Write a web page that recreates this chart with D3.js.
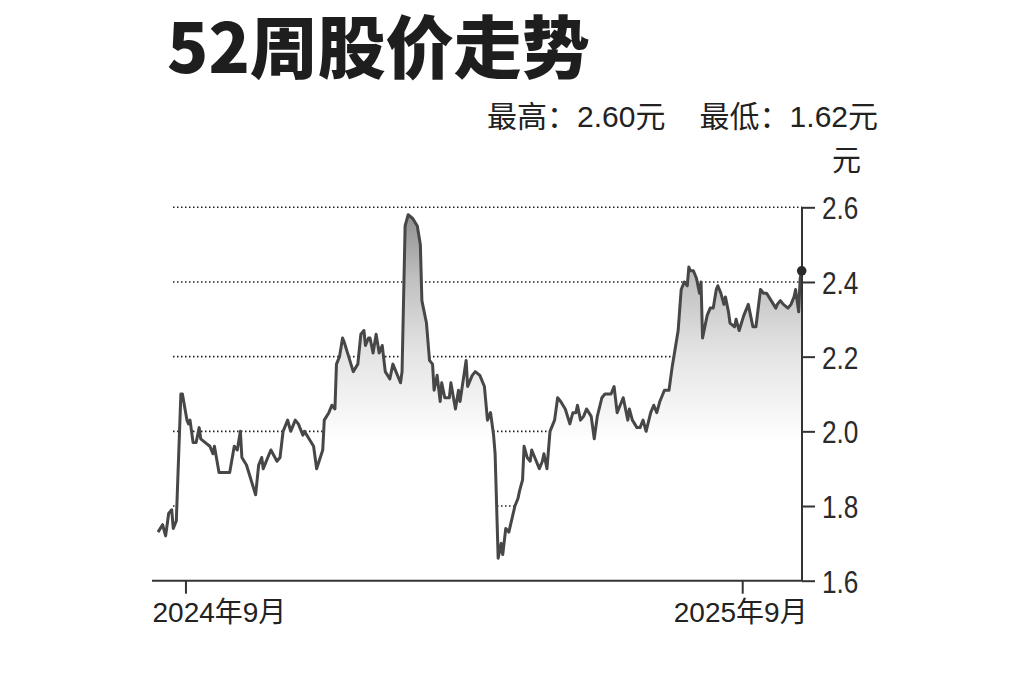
<!DOCTYPE html>
<html><head><meta charset="utf-8">
<script src="https://cdn.jsdelivr.net/npm/d3@7"></script>
<style>
html,body{margin:0;padding:0;background:#fff;}
svg{display:block;}
</style></head>
<body>
<svg id="chart" width="1023" height="682"></svg>
<script>
// ---- data ----
const title = "52周股价走势";
const highLabel = "最高：2.60元";
const lowLabel = "最低：1.62元";
const unitLabel = "元";
const yTicks = [1.6, 1.8, 2.0, 2.2, 2.4, 2.6];
const xTicks = ["2024-09-01", "2025-09-01"];
const dates = [
 "2024-08-14","2024-08-17","2024-08-19","2024-08-21","2024-08-23","2024-08-24","2024-08-26","2024-08-29","2024-08-30",
 "2024-09-02","2024-09-03","2024-09-04","2024-09-06","2024-09-08","2024-09-10","2024-09-11","2024-09-14","2024-09-17","2024-09-19","2024-09-20","2024-09-23","2024-09-30",
 "2024-10-03","2024-10-05","2024-10-07","2024-10-08","2024-10-11","2024-10-17","2024-10-19","2024-10-21","2024-10-22","2024-10-27","2024-10-31",
 "2024-11-02","2024-11-04","2024-11-07","2024-11-09","2024-11-12","2024-11-14","2024-11-17","2024-11-18","2024-11-21","2024-11-24","2024-11-26","2024-11-30",
 "2024-12-01","2024-12-04","2024-12-06","2024-12-08","2024-12-09","2024-12-11","2024-12-13","2024-12-14","2024-12-17","2024-12-20","2024-12-23","2024-12-25","2024-12-27","2024-12-28","2024-12-30","2024-12-31",
 "2025-01-02","2025-01-04","2025-01-06","2025-01-08","2025-01-10","2025-01-13","2025-01-15","2025-01-17","2025-01-20","2025-01-21","2025-01-23","2025-01-25","2025-01-28","2025-01-31",
 "2025-02-02","2025-02-03","2025-02-06","2025-02-08","2025-02-10","2025-02-11","2025-02-13","2025-02-15","2025-02-16","2025-02-18","2025-02-21","2025-02-22","2025-02-25","2025-02-27","2025-02-28",
 "2025-03-04","2025-03-05","2025-03-08","2025-03-10","2025-03-13","2025-03-16","2025-03-18","2025-03-20","2025-03-22","2025-03-23","2025-03-25","2025-03-27","2025-03-28","2025-03-30",
 "2025-04-01","2025-04-05","2025-04-07","2025-04-08","2025-04-10","2025-04-11","2025-04-13","2025-04-15","2025-04-16","2025-04-18","2025-04-21","2025-04-23","2025-04-24","2025-04-26","2025-04-28","2025-04-29",
 "2025-05-01","2025-05-03","2025-05-05","2025-05-08","2025-05-11","2025-05-13","2025-05-15","2025-05-16","2025-05-18","2025-05-20","2025-05-22","2025-05-25","2025-05-27","2025-05-29",
 "2025-06-01","2025-06-03","2025-06-07","2025-06-09","2025-06-11","2025-06-13","2025-06-15","2025-06-18","2025-06-19","2025-06-21","2025-06-24","2025-06-26","2025-06-28","2025-06-30",
 "2025-07-03","2025-07-05","2025-07-07","2025-07-09","2025-07-12","2025-07-15","2025-07-17","2025-07-19","2025-07-21","2025-07-23","2025-07-24","2025-07-25","2025-07-27","2025-07-28","2025-07-29","2025-07-31",
 "2025-08-02","2025-08-04","2025-08-05","2025-08-06","2025-08-08","2025-08-09","2025-08-11","2025-08-13","2025-08-15","2025-08-16","2025-08-18","2025-08-20","2025-08-21","2025-08-23","2025-08-24","2025-08-27","2025-08-28","2025-08-30",
 "2025-09-02","2025-09-05","2025-09-06","2025-09-08","2025-09-10","2025-09-13","2025-09-15","2025-09-17","2025-09-20","2025-09-23","2025-09-24","2025-09-26","2025-09-28",
 "2025-10-01","2025-10-03","2025-10-05","2025-10-06","2025-10-08","2025-10-09","2025-10-10"
];
const prices = [
 1.73,1.75,1.72,1.78,1.79,1.74,1.76,2.10,2.10,
 2.03,2.02,2.03,1.97,1.97,2.01,1.98,1.97,1.96,1.94,1.96,1.89,1.89,
 1.96,1.95,2.00,1.93,1.91,1.83,1.91,1.93,1.90,1.95,1.92,
 1.93,2.00,2.03,2.00,2.03,2.02,1.99,2.00,1.98,1.96,1.90,1.95,
 2.03,2.05,2.07,2.06,2.18,2.20,2.25,2.24,2.20,2.16,2.18,2.26,2.27,2.23,2.25,2.25,
 2.21,2.26,2.21,2.23,2.16,2.14,2.18,2.16,2.13,2.16,2.55,2.58,2.57,2.55,
 2.50,2.35,2.29,2.19,2.18,2.11,2.15,2.08,2.13,2.09,2.09,2.13,2.06,2.11,2.08,
 2.19,2.12,2.15,2.16,2.15,2.12,2.03,2.05,1.99,1.94,1.66,1.70,1.67,1.74,
 1.73,1.80,1.82,1.84,1.87,1.96,1.93,1.92,1.95,1.93,1.90,1.92,1.94,1.90,2.00,2.01,
 2.03,2.09,2.08,2.06,2.02,2.05,2.05,2.07,2.03,2.04,2.06,2.04,1.98,2.04,
 2.09,2.10,2.10,2.12,2.05,2.07,2.09,2.03,2.06,2.03,2.01,2.01,2.03,2.00,
 2.05,2.07,2.05,2.08,2.11,2.11,2.17,2.22,2.27,2.38,2.39,2.40,2.39,2.44,2.43,2.43,
 2.41,2.37,2.40,2.25,2.29,2.31,2.33,2.33,2.38,2.39,2.37,2.34,2.36,2.32,2.29,2.28,2.30,2.27,
 2.31,2.34,2.32,2.28,2.28,2.38,2.37,2.37,2.35,2.33,2.34,2.35,2.34,
 2.33,2.34,2.36,2.38,2.32,2.41,2.43
];

// ---- drawing ----
const parse = d3.utcParse("%Y-%m-%d");
const data = dates.map((d, i) => ({date: parse(d), value: prices[i]}));

const svg = d3.select("#chart");
const cjk = "'Noto Sans CJK SC', 'Liberation Sans', sans-serif";
const latin = "'Liberation Sans', 'Noto Sans CJK SC', sans-serif";

const plotLeft = 152, plotRight = 802, plotTop = 207.3, plotBottom = 580.7;

const x = d3.scaleUtc()
  .domain(d3.extent(data, d => d.date))
  .range([158, 801.7]);
const y = d3.scaleLinear()
  .domain([d3.min(yTicks), d3.max(yTicks)])
  .range([plotBottom, plotTop]);

// gradient
const defs = svg.append("defs");
const grad = defs.append("linearGradient")
  .attr("id", "fillGrad")
  .attr("gradientUnits", "userSpaceOnUse")
  .attr("x1", 0).attr("x2", 0)
  .attr("y1", y(2.6)).attr("y2", y(1.97));
grad.append("stop").attr("offset", 0).attr("stop-color", "#8a8a8a");
grad.append("stop").attr("offset", 0.3).attr("stop-color", "#c0c0c0");
grad.append("stop").attr("offset", 0.62).attr("stop-color", "#e4e4e4");
grad.append("stop").attr("offset", 1).attr("stop-color", "#ffffff");

// title
svg.append("text")
  .attr("x", 167).attr("y", 73)
  .attr("font-family", cjk)
  .attr("font-weight", 900)
  .attr("font-size", 68)
  .attr("fill", "#1e1e1e")
  .text(title);

// high/low labels
svg.append("text")
  .attr("x", 487).attr("y", 127)
  .attr("font-family", latin)
  .attr("font-size", 30)
  .attr("fill", "#222")
  .text(highLabel);
svg.append("text")
  .attr("x", 878).attr("y", 127)
  .attr("text-anchor", "end")
  .attr("font-family", latin)
  .attr("font-size", 30)
  .attr("fill", "#222")
  .text(lowLabel);
svg.append("text")
  .attr("x", 832).attr("y", 171)
  .attr("font-family", cjk)
  .attr("font-size", 29)
  .attr("fill", "#222")
  .text(unitLabel);

// gridlines
svg.append("g")
  .selectAll("line")
  .data(yTicks.filter(t => t > d3.min(yTicks)))
  .join("line")
  .attr("x1", 173).attr("x2", plotRight)
  .attr("y1", d => y(d)).attr("y2", d => y(d))
  .attr("stroke", "#222")
  .attr("stroke-width", 1.6)
  .attr("stroke-dasharray", "1.5,2.5");

// area
const area = d3.area()
  .x(d => x(d.date))
  .y0(plotBottom)
  .y1(d => y(d.value));
svg.append("path")
  .datum(data)
  .attr("d", area)
  .attr("fill", "url(#fillGrad)");

// line
const line = d3.line()
  .x(d => x(d.date))
  .y(d => y(d.value));
svg.append("path")
  .datum(data)
  .attr("d", line)
  .attr("fill", "none")
  .attr("stroke", "#474747")
  .attr("stroke-width", 3)
  .attr("stroke-linejoin", "round");

// bottom axis
const xAxis = d3.axisBottom(x)
  .tickValues(xTicks.map(parse))
  .tickSize(13)
  .tickPadding(10)
  .tickFormat(d3.utcFormat("%Y年%-m月"));
const gx = svg.append("g")
  .attr("transform", `translate(0,${plotBottom})`)
  .call(xAxis);
gx.select(".domain")
  .attr("d", `M${plotLeft},0H${plotRight}`)
  .attr("stroke", "#333").attr("stroke-width", 2);
gx.selectAll(".tick line").attr("stroke", "#333").attr("stroke-width", 2);
gx.selectAll(".tick text")
  .attr("font-family", latin)
  .attr("font-size", 28)
  .attr("fill", "#222")
  .attr("dy", "0.72em")
  .attr("y", 21);
gx.selectAll(".tick").filter((d, i) => i === 0).select("text")
  .attr("text-anchor", "start")
  .attr("x", function(d) { return plotLeft - x(d); });
gx.selectAll(".tick").filter((d, i) => i === 1).select("text")
  .attr("x", -2);

// right axis
const yAxis = d3.axisRight(y)
  .tickValues(yTicks)
  .tickSize(13)
  .tickPadding(7)
  .tickFormat(d3.format(".1f"));
const gy = svg.append("g")
  .attr("transform", `translate(${plotRight},0)`)
  .call(yAxis);
gy.select(".domain")
  .attr("d", `M0,${plotTop}V${plotBottom}`)
  .attr("stroke", "#333").attr("stroke-width", 2);
gy.selectAll(".tick line").attr("stroke", "#333").attr("stroke-width", 2);
gy.selectAll(".tick text")
  .attr("font-family", latin)
  .attr("font-size", 32)
  .attr("fill", "#2a2a2a")
  .attr("dy", "0.36em")
  .attr("x", 0)
  .attr("transform", "translate(20,0) scale(0.82,1)");

// end dot
const last = data[data.length - 1];
svg.append("circle")
  .attr("cx", x(last.date))
  .attr("cy", y(last.value))
  .attr("r", 4.8)
  .attr("fill", "#2a2a2a");
</script>
</body></html>
